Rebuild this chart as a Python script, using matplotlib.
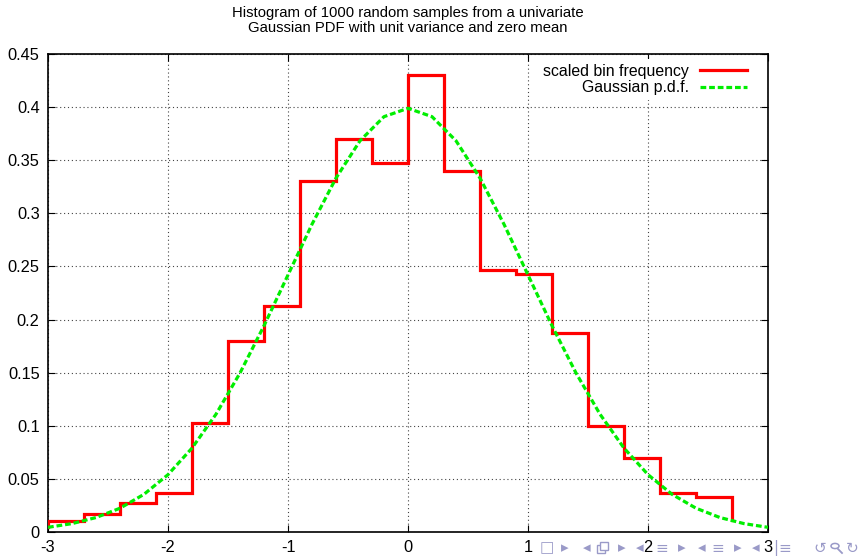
import numpy as np
import matplotlib
matplotlib.use("Agg")
import matplotlib.pyplot as plt
from matplotlib.patches import Rectangle, Circle
from matplotlib.lines import Line2D

plt.rcParams['font.family'] = ['Liberation Sans', 'DejaVu Sans']

########## data ##########
# left bin edges (width 0.3)
bin_edges = [-3.0, -2.7, -2.4, -2.1, -1.8, -1.5, -1.2, -0.9, -0.6, -0.3,
             0.0, 0.3, 0.6, 0.9, 1.2, 1.5, 1.8, 2.1, 2.4, 2.7]
bin_freq = [0.010, 0.017, 0.027, 0.037, 0.103, 0.180, 0.213, 0.330, 0.370,
            0.347, 0.430, 0.340, 0.247, 0.243, 0.187, 0.100, 0.070, 0.037, 0.033]
start_val = 0.005   # where the step curve starts at x=-3
end_val = 0.011     # where it stops at x=2.7

# Gaussian p.d.f.
pdf_x = [-3.0, -2.8, -2.6, -2.4, -2.2, -2.0, -1.8, -1.6, -1.4, -1.2, -1.0,
         -0.8, -0.6, -0.4, -0.2, 0.0, 0.2, 0.4, 0.6, 0.8, 1.0, 1.2, 1.4,
         1.6, 1.8, 2.0, 2.2, 2.4, 2.6, 2.8, 3.0]
pdf_y = [0.0044, 0.0079, 0.0136, 0.0224, 0.0355, 0.0540, 0.0790, 0.1109,
         0.1497, 0.1942, 0.2420, 0.2897, 0.3332, 0.3683, 0.3910, 0.3989,
         0.3910, 0.3683, 0.3332, 0.2897, 0.2420, 0.1942, 0.1497, 0.1109,
         0.0790, 0.0540, 0.0355, 0.0224, 0.0136, 0.0079, 0.0044]

x_ticks = [-3, -2, -1, 0, 1, 2, 3]
y_ticks = [0, 0.05, 0.1, 0.15, 0.2, 0.25, 0.3, 0.35, 0.4, 0.45]
y_labels = ["0", "0.05", "0.1", "0.15", "0.2", "0.25", "0.3", "0.35", "0.4", "0.45"]

########## build step line ##########
sx = [bin_edges[0]]
sy = [start_val]
for i, v in enumerate(bin_freq):
    sx += [bin_edges[i], bin_edges[i] + 0.3]
    sy += [v, v]
sx.append(bin_edges[-1])
sy.append(end_val)

########## plot ##########
W, H = 862, 556
fig = plt.figure(figsize=(8.62, 5.56), dpi=100)
ax = fig.add_axes([48/W, 1-532/H, 720/W, 478/H])

ax.plot(sx, sy, color="#ff0000", linewidth=2.3, label="scaled bin frequency",
        solid_joinstyle="miter", zorder=3)
ax.plot(pdf_x, pdf_y, color="#00ee00", linewidth=2.3, linestyle=(0, (1.8, 0.9)),
        label="Gaussian p.d.f.", zorder=4)

ax.set_xlim(-3, 3)
ax.set_ylim(0, 0.45)
ax.set_xticks(x_ticks)
ax.set_xticklabels([str(t) for t in x_ticks])
ax.set_yticks(y_ticks)
ax.set_yticklabels(y_labels)
ax.tick_params(direction="in", length=5, width=0.8, top=True, right=True,
               labelsize=11.8, pad=6, colors="black")
ax.grid(True, color="#444444", linestyle=(0, (1, 2.5)), linewidth=0.8)
ax.set_axisbelow(True)
for s in ax.spines.values():
    s.set_linewidth(1.2)

leg = ax.legend(loc="upper right", bbox_to_anchor=(0.978, 0.99), borderaxespad=0,
                markerfirst=False, frameon=True, fontsize=11.4, handlelength=3.0,
                handletextpad=0.7, labelspacing=0.1, borderpad=0.3)
leg.get_frame().set_edgecolor("none")
leg.get_frame().set_facecolor("white")
leg.get_frame().set_alpha(1.0)
for t in leg.get_texts():
    t.set_ha("right")

fig.text(408/W, 1-13/H, "Histogram of 1000 random samples from a univariate",
         ha="center", va="center", fontsize=10.7)
fig.text(408/W, 1-28/H, "Gaussian PDF with unit variance and zero mean",
         ha="center", va="center", fontsize=10.7)

# beamer navigation symbols (light grey-blue)
navc = "#9a9ac8"
nav = [(547, "\u25a1"), (565, "\u25b8"), (587, "\u25c2"), (622, "\u25b8"),
       (640, "\u25c2"), (662, "\u2261"), (682, "\u25b8"), (702, "\u25c2"),
       (718, "\u2261"), (738, "\u25b8"), (756, "\u25c2"), (776, "|"),
       (785, "\u2261"), (820, "\u21ba"), (852, "\u21bb")]
for px, sym in nav:
    fig.text(px/W, 1-548/H, sym, ha="center", va="center", fontsize=11,
             color=navc, family=["DejaVu Sans"])
# stacked frames icon and magnifier drawn as shapes (no font has them)
for dx, dy in [(0, 0), (3, -3)]:
    fig.add_artist(Rectangle(((597+dx)/W, 1-(553+dy)/H), 8/W, 8/H,
                             transform=fig.transFigure, fill=True,
                             facecolor="white", edgecolor=navc, linewidth=1))
fig.add_artist(Circle((835/W, 1-546/H), 4/W, transform=fig.transFigure,
                      fill=False, edgecolor=navc, linewidth=1.1))
fig.add_artist(Line2D([838/W, 842/W], [1-549/H, 1-553/H], transform=fig.transFigure,
                      color=navc, linewidth=1.3))

fig.savefig("out.png", dpi=100)
